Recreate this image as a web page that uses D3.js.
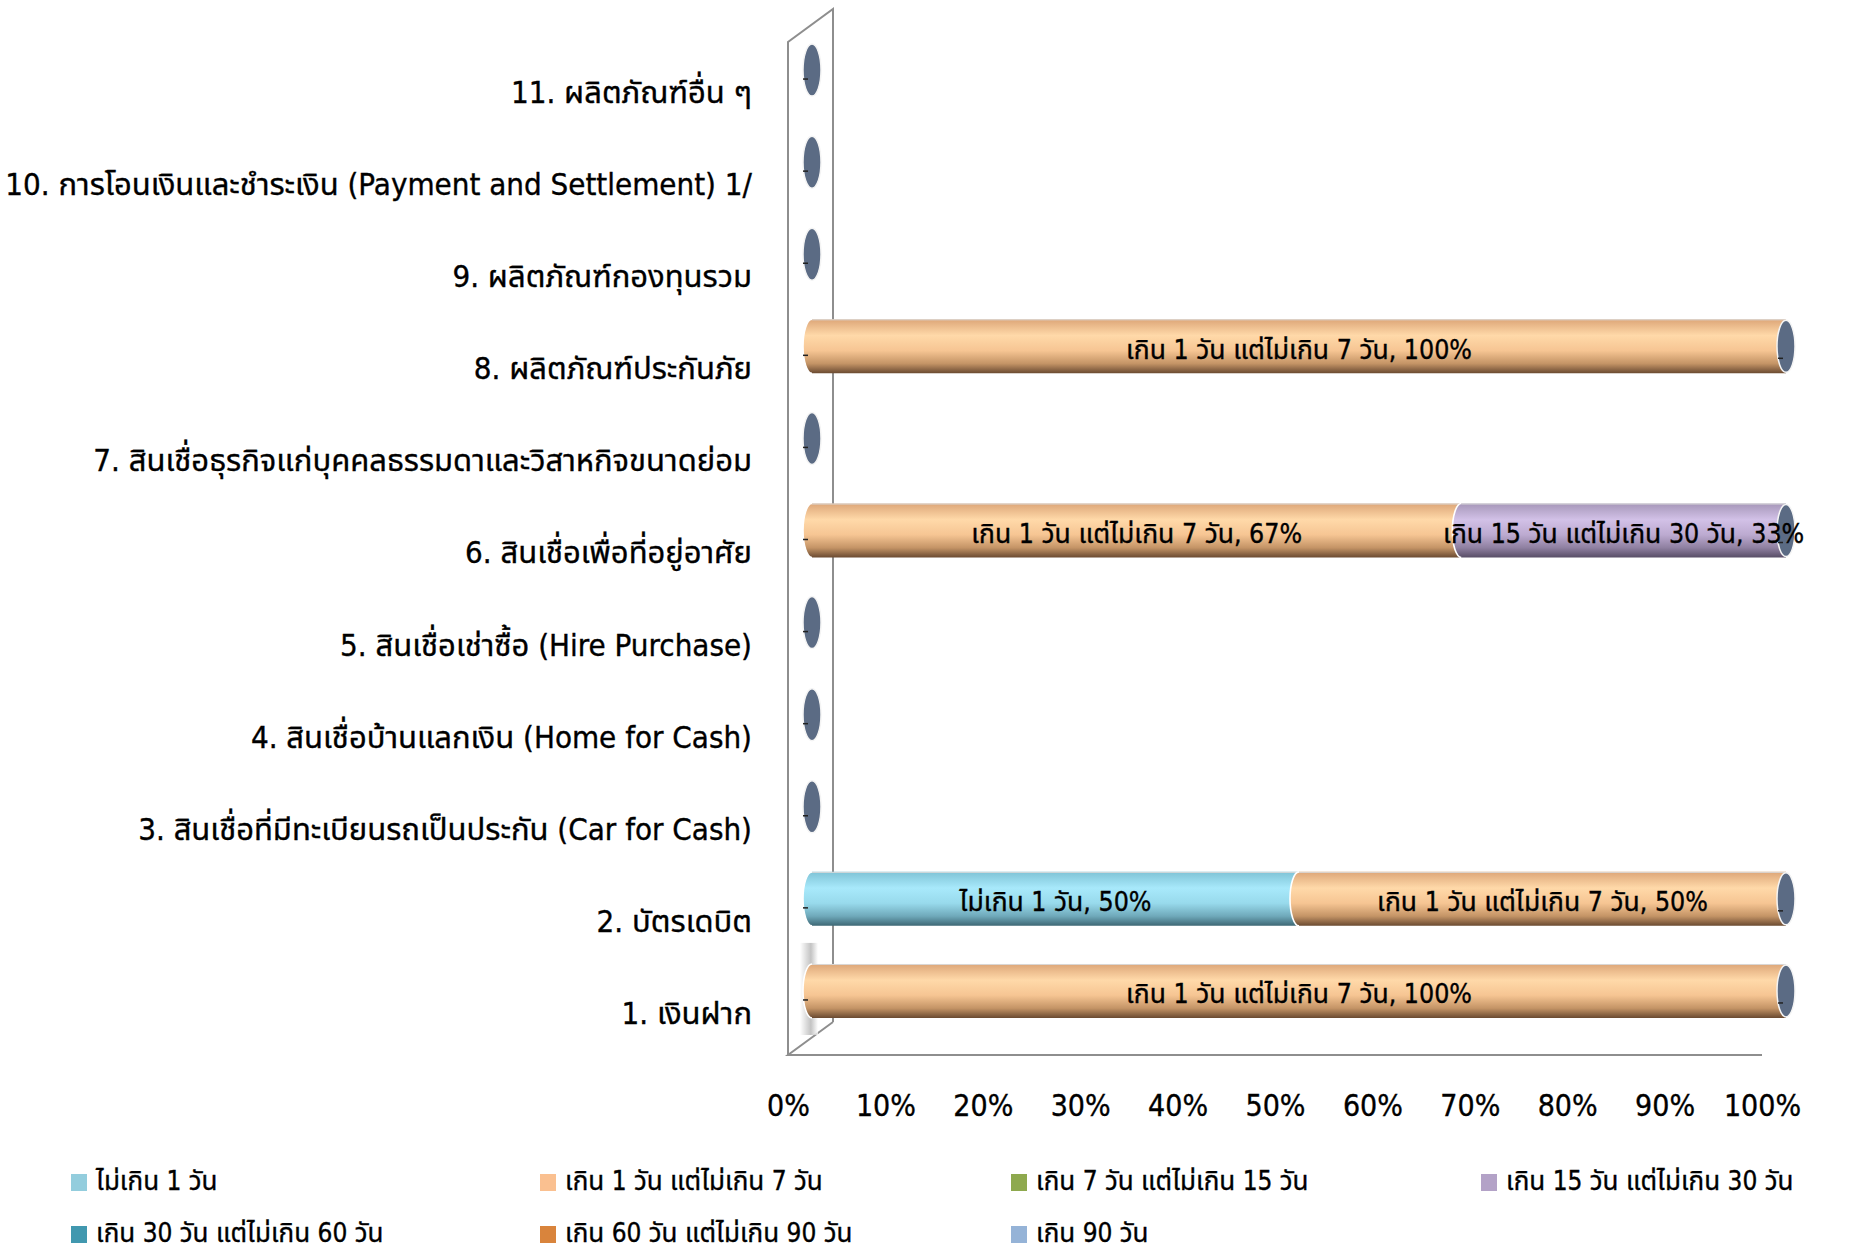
<!DOCTYPE html>
<html>
<head>
<meta charset="utf-8">
<script src="https://cdn.jsdelivr.net/npm/d3@7"></script>
<style>
  html, body { margin: 0; padding: 0; background: #fff; }
  svg { display: block; }
  text {
    font-family: Tahoma, "DejaVu Sans Condensed", "DejaVu Sans", "Noto Sans Thai", sans-serif;
    fill: #000; stroke: #000; stroke-width: 0.35px;
  }
</style>
</head>
<body>
<svg id="chart" width="1862" height="1249"></svg>
<script>
// Categories, bottom to top
const categories = [
  "1. เงินฝาก",
  "2. บัตรเดบิต",
  "3. สินเชื่อที่มีทะเบียนรถเป็นประกัน (Car for Cash)",
  "4. สินเชื่อบ้านแลกเงิน (Home for Cash)",
  "5. สินเชื่อเช่าซื้อ (Hire Purchase)",
  "6. สินเชื่อเพื่อที่อยู่อาศัย",
  "7. สินเชื่อธุรกิจแก่บุคคลธรรมดาและวิสาหกิจขนาดย่อม",
  "8. ผลิตภัณฑ์ประกันภัย",
  "9. ผลิตภัณฑ์กองทุนรวม",
  "10. การโอนเงินและชำระเงิน (Payment and Settlement) 1/",
  "11. ผลิตภัณฑ์อื่น ๆ"
];

const seriesNames = [
  "ไม่เกิน 1 วัน",
  "เกิน 1 วัน แต่ไม่เกิน 7 วัน",
  "เกิน 7 วัน แต่ไม่เกิน 15 วัน",
  "เกิน 15 วัน แต่ไม่เกิน 30 วัน",
  "เกิน 30 วัน แต่ไม่เกิน 60 วัน",
  "เกิน 60 วัน แต่ไม่เกิน 90 วัน",
  "เกิน 90 วัน"
];

// Share of cases per category (fractions of 1), one array per series
const upTo1Day     = [0, 0.5, 0, 0, 0, 0,      0, 0, 0, 0, 0];
const days1to7     = [1, 0.5, 0, 0, 0, 2 / 3,  0, 1, 0, 0, 0];
const days7to15    = [0, 0,   0, 0, 0, 0,      0, 0, 0, 0, 0];
const days15to30   = [0, 0,   0, 0, 0, 1 / 3,  0, 0, 0, 0, 0];
const days30to60   = [0, 0,   0, 0, 0, 0,      0, 0, 0, 0, 0];
const days60to90   = [0, 0,   0, 0, 0, 0,      0, 0, 0, 0, 0];
const over90Days   = [0, 0,   0, 0, 0, 0,      0, 0, 0, 0, 0];

const seriesValues = [upTo1Day, days1to7, days7to15, days15to30, days30to60, days60to90, over90Days];

const xTicks = [0, 0.1, 0.2, 0.3, 0.4, 0.5, 0.6, 0.7, 0.8, 0.9, 1.0];

// Legend swatch colours and cylinder shading stops (light, highlight, mid, shade, dark)
const swatchColors = ["#93CDDD", "#FAC090", "#8EA94E", "#B3A2C7", "#4198AF", "#D9843C", "#95B3D7"];
const shadeStops = [
  ["#7FC3D6", "#A8E9FB", "#98DAEC", "#6FA9BA", "#3D6774"],
  ["#DDA678", "#FFD9A9", "#F6C593", "#C49466", "#6A4A31"],
  ["#92AE55", "#B9D57A", "#A2C063", "#76913F", "#47581F"],
  ["#A697B9", "#D2C1E7", "#BCAAD0", "#8F80A1", "#584D66"],
  ["#3E93AA", "#6CC1D8", "#4EA6BD", "#2F7488", "#1B4652"],
  ["#D4803A", "#F7A862", "#E38F47", "#A9652C", "#633A17"],
  ["#90AED2", "#BCD3EE", "#A3BEDD", "#738FB2", "#44566E"]
];
const capColor = "#5B6B84";

const svg = d3.select("#chart");
const defs = svg.append("defs");

// Front plane of the 3-D plot box
const plotLeft = 788, plotRight = 1762, plotTop = 42, plotBottom = 1055;
const depthX = 45, depthY = -33;          // back wall offset
const barDX = 24, barDY = -18;            // cylinders sit half-way into the depth
const barR = 27;                          // cylinder radius (vertical)
const capRX = 9;                          // end ellipse half-width

const x = d3.scaleLinear().domain([0, 1]).range([plotLeft, plotRight]);
const y = d3.scaleBand().domain(categories).range([plotBottom, plotTop]).padding(0);

// Gradients for the cylinder bodies
seriesNames.forEach((name, i) => {
  const g = defs.append("linearGradient")
    .attr("id", "cyl" + i)
    .attr("x1", 0).attr("y1", 0).attr("x2", 0).attr("y2", 1);
  const offs = [0, 0.3, 0.58, 0.82, 1];
  shadeStops[i].forEach((c, k) => g.append("stop").attr("offset", offs[k]).attr("stop-color", c));
});

// Soft grey streak on the wall beside the lowest cylinder
const wallShade = defs.append("linearGradient").attr("id", "wallShade")
  .attr("x1", 0).attr("y1", 0).attr("x2", 1).attr("y2", 0);
wallShade.append("stop").attr("offset", 0).attr("stop-color", "#ffffff");
wallShade.append("stop").attr("offset", 0.6).attr("stop-color", "#b0b0b0");
wallShade.append("stop").attr("offset", 1).attr("stop-color", "#ffffff");

// Plot box: back wall and floor edges
const box = svg.append("g").attr("fill", "none").attr("stroke", "#8E8E8E").attr("stroke-width", 2);
box.append("path").attr("d", [
  "M", plotLeft, plotBottom, "L", plotLeft, plotTop,
  "L", plotLeft + depthX, plotTop + depthY,
  "L", plotLeft + depthX, plotBottom + depthY
].join(" "));
box.append("path").attr("d", [
  "M", plotLeft + depthX, plotBottom + depthY, "L", plotLeft, plotBottom, "L", plotRight, plotBottom
].join(" "));

svg.append("rect")
  .attr("x", plotLeft + 12).attr("width", 18)
  .attr("y", y(categories[0]) - 20).attr("height", y.bandwidth())
  .attr("fill", "url(#wallShade)").attr("opacity", 0.75);

// Stacked layout
const rows = categories.map((c, ci) => {
  const r = { category: c };
  seriesNames.forEach((s, si) => { r[s] = seriesValues[si][ci]; });
  return r;
});
const stacked = d3.stack().keys(seriesNames)(rows);

const bars = svg.append("g");

categories.forEach((cat, ci) => {
  const cy = y(cat) + y.bandwidth() / 2 + barDY;
  const g = bars.append("g");
  let end = 0;
  stacked.forEach((layer, si) => {
    const [v0, v1] = layer[ci];
    if (v1 - v0 <= 0) return;
    const x0 = x(v0) + barDX, x1 = x(v1) + barDX;
    end = v1;
    g.append("path")
      .attr("d", `M${x0},${cy - barR} L${x1},${cy - barR} L${x1},${cy + barR} L${x0},${cy + barR} A${capRX},${barR} 0 0 1 ${x0},${cy - barR} Z`)
      .attr("fill", `url(#cyl${si})`);
    g.append("path")
      .attr("d", `M${x0},${cy + barR} A${capRX},${barR} 0 0 1 ${x0},${cy - barR}`)
      .attr("fill", "none").attr("stroke", "#ffffff").attr("stroke-width", 1.6);
    g.append("line")
      .attr("x1", x0).attr("x2", x1).attr("y1", cy - barR + 0.5).attr("y2", cy - barR + 0.5)
      .attr("stroke", "#d9d9d9").attr("stroke-width", 1);
  });
  const xe = x(end) + barDX;
  g.append("ellipse")
    .attr("cx", xe).attr("cy", cy).attr("rx", capRX).attr("ry", barR - 1)
    .attr("fill", capColor).attr("stroke", "#f4f4f4").attr("stroke-width", 1.5);
  // small tick marks at the cylinder ends
  g.append("line").attr("x1", x(0) + barDX - 9).attr("x2", x(0) + barDX - 4)
    .attr("y1", cy + 9).attr("y2", cy + 9).attr("stroke", "#222").attr("stroke-width", 1.5);
  if (end > 0) {
    g.append("line").attr("x1", xe - 8).attr("x2", xe - 3)
      .attr("y1", cy + 12).attr("y2", cy + 12).attr("stroke", "#222").attr("stroke-width", 1.5);
  }
});

// Data labels
const labels = svg.append("g").attr("font-size", 26.5).attr("text-anchor", "middle");
categories.forEach((cat, ci) => {
  const cy = y(cat) + y.bandwidth() / 2 + barDY;
  stacked.forEach((layer, si) => {
    const [v0, v1] = layer[ci];
    if (v1 - v0 <= 0) return;
    labels.append("text")
      .attr("x", x((v0 + v1) / 2) + barDX)
      .attr("y", cy + 3)
      .attr("dy", "0.35em")
      .text(`${seriesNames[si]}, ${d3.format(".0%")(v1 - v0)}`);
  });
});

// Category axis
const yAxis = svg.append("g")
  .attr("transform", `translate(752,5)`)
  .call(d3.axisLeft(y).tickSize(0).tickPadding(0));
yAxis.select(".domain").remove();
yAxis.selectAll("text").attr("font-size", 31).attr("font-family", null).attr("fill", "#000");

// Value axis
const xAxis = svg.append("g")
  .attr("transform", `translate(0,${plotBottom})`)
  .call(d3.axisBottom(x).tickValues(xTicks).tickFormat(d3.format(".0%")).tickSize(0).tickPadding(40));
xAxis.select(".domain").remove();
xAxis.selectAll("text").attr("font-size", 30).attr("font-family", null).attr("fill", "#000");

// Legend
const legendCols = [71, 540, 1011, 1481];
const legendRows = [1181, 1233];
const legend = svg.append("g").attr("font-size", 26);
seriesNames.forEach((s, i) => {
  const lx = legendCols[i % 4], ly = legendRows[Math.floor(i / 4)];
  const item = legend.append("g").attr("transform", `translate(${lx},${ly})`);
  item.append("rect").attr("x", 0).attr("y", -7).attr("width", 16).attr("height", 17)
    .attr("fill", swatchColors[i]);
  item.append("text").attr("x", 25).attr("y", 0).attr("dy", "0.35em").text(s);
});
</script>
</body>
</html>
